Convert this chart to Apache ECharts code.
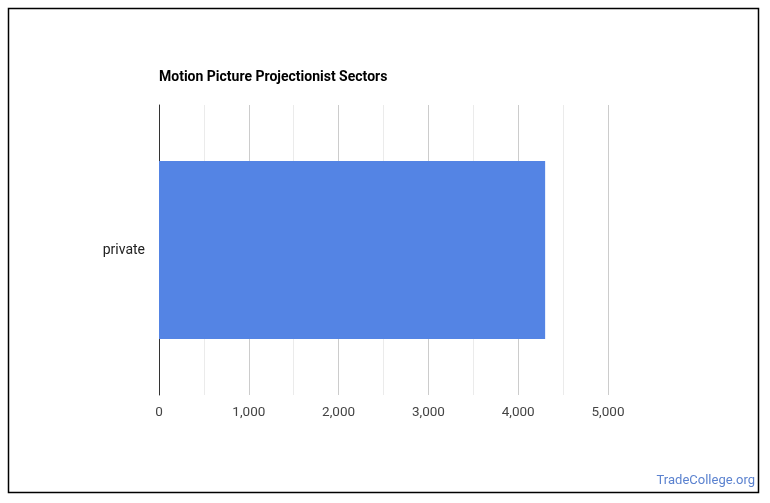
<!DOCTYPE html>
<html>
<head>
<meta charset="utf-8">
<script src="https://cdn.jsdelivr.net/npm/echarts@6/dist/echarts.min.js"></script>
<style>
html,body{margin:0;padding:0;background:#fff;}
#main{width:770px;height:503px;}
</style>
</head>
<body>
<div id="main"></div>
<script>
var titleText = 'Motion Picture Projectionist Sectors';
var categories = ['private'];
var values = [4300];
var axisMin = 0, axisMax = 5000, axisInterval = 1000;
var watermark = 'TradeCollege.org';

var chart = echarts.init(document.getElementById('main'), null, {renderer: 'canvas'});
chart.setOption({
  backgroundColor: '#fff',
  animation: false,
  title: {
    text: titleText,
    left: 159, top: 70, padding: 0,
    textStyle: {fontFamily: 'Roboto', fontWeight: 'bold', fontSize: 14, color: '#000'}
  },
  grid: {left: 159, right: 162, top: 105, bottom: 108, containLabel: false},
  xAxis: {
    type: 'value', min: axisMin, max: axisMax, interval: axisInterval,
    axisLine: {show: false}, axisTick: {show: false},
    axisLabel: {fontFamily: 'Roboto', fontSize: 13.5, color: '#444', margin: 11,
      formatter: function(v){ return v.toLocaleString('en-US'); }},
    splitLine: {show: true, lineStyle: {color: '#cccccc', width: 1}},
    minorTick: {show: false, splitNumber: 2},
    minorSplitLine: {show: true, lineStyle: {color: '#ebebeb', width: 1}}
  },
  yAxis: {
    type: 'category', data: categories,
    axisLine: {show: true, lineStyle: {color: '#333', width: 1}},
    axisTick: {show: false},
    axisLabel: {fontFamily: 'Roboto', fontSize: 14, color: '#222', margin: 14}
  },
  series: [{
    type: 'bar', data: values, barWidth: 178,
    itemStyle: {color: '#5484e4'}
  }],
  graphic: [
    {type: 'rect', shape: {x: 8.5, y: 8.5, width: 750, height: 484},
     style: {fill: 'none', stroke: '#000', lineWidth: 1.5}, silent: true},
    {type: 'text', right: 15, top: 474,
     style: {text: watermark, font: '13px Roboto', fill: '#5b82cf'}}
  ]
});
</script>
</body>
</html>
